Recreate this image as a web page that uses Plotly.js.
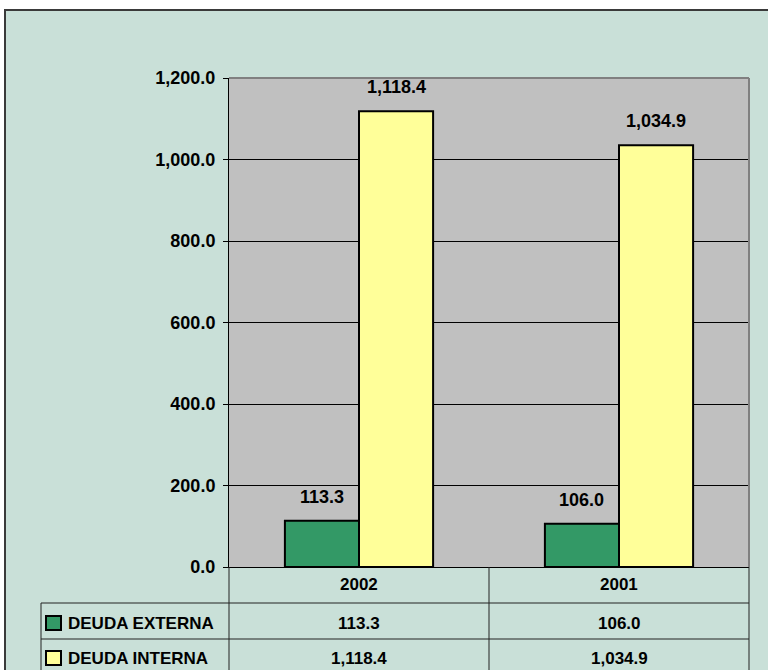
<!DOCTYPE html>
<html>
<head>
<meta charset="utf-8">
<script src="https://cdn.plot.ly/plotly-3.0.1.min.js"></script>
<style>
  html, body { margin: 0; padding: 0; background: #ffffff; width: 768px; height: 670px; overflow: hidden; }
  #chart { position: absolute; left: 4px; top: 9px; width: 764px; height: 661px;
           border-top: 2px solid #3a3a3a; border-left: 2px solid #3a3a3a; box-sizing: border-box; }
</style>
</head>
<body>
<div id="chart"></div>
<script>
// ---- data ----
const years = ['2002', '2001'];
const seriesNames = ['DEUDA EXTERNA', 'DEUDA INTERNA'];
const deudaExterna = [113.3, 106.0];
const deudaInterna = [1118.4, 1034.9];
const yTicks = [0, 200, 400, 600, 800, 1000, 1200];

// ---- styling ----
const colors = ['#339966', '#ffff99'];
const bgColor = '#c9e0d8';
const plotBg = '#c0c0c0';
const W = 764, H = 661;
const M = {l: 225, r: 19, t: 69, b: 103};
const plotW = W - M.l - M.r;   // 520
const plotH = H - M.t - M.b;   // 489
const bargap = 0.43;
const font = 'Liberation Sans, Arial, sans-serif';

// convert reference-page pixel positions (decoration layout) to paper coords
const ox = 4 + M.l, oyBottom = 9 + M.t + plotH; // 229, 567
const px = X => (X - ox) / plotW;
const py = Y => (oyBottom - Y) / plotH;

const fmt = v => v.toLocaleString('en-US', {minimumFractionDigits: 1, maximumFractionDigits: 1});

const values = [deudaExterna, deudaInterna];
const traces = values.map((vals, i) => ({
  type: 'bar', x: years, y: vals, name: seriesNames[i],
  marker: {color: colors[i], line: {color: '#000000', width: 2}},
  hoverinfo: 'skip'
}));

const catPx = plotW / years.length;
const barPx = catPx * (1 - bargap) / 2;

const annotations = [];
// bar value labels (category index positions)
values.forEach((vals, i) => {
  vals.forEach((v, j) => {
    annotations.push({
      x: j, y: v, xref: 'x', yref: 'y', text: fmt(v), showarrow: false,
      xshift: (i === 0 ? -1 : 1) * barPx / 2, yshift: 24, yanchor: 'middle',
      font: {family: font, size: 18, color: '#000', weight: 'bold'}
    });
  });
});
// table: year header row
years.forEach((yr, j) => {
  annotations.push({
    x: j, y: py(584), xref: 'x', yref: 'paper', text: yr, showarrow: false,
    yanchor: 'middle', font: {family: font, size: 17, color: '#000', weight: 'bold'}
  });
});
// table rows
const rowY = [623, 658];
values.forEach((vals, i) => {
  annotations.push({
    x: px(66), y: py(rowY[i]), xref: 'paper', yref: 'paper', text: seriesNames[i], showarrow: false,
    xanchor: 'left', yanchor: 'middle', font: {family: font, size: 17, color: '#000', weight: 'bold'}
  });
  vals.forEach((v, j) => {
    annotations.push({
      x: j, y: py(rowY[i]), xref: 'x', yref: 'paper', text: fmt(v), showarrow: false,
      yanchor: 'middle', font: {family: font, size: 17, color: '#000', weight: 'bold'}
    });
  });
});

const lineC = '#222222';
const shapes = [
  // plot frame top & right (grey)
  {type: 'line', xref: 'paper', yref: 'paper', x0: 0, x1: 1, y0: 1, y1: 1, line: {color: '#808080', width: 2}},
  {type: 'line', xref: 'paper', yref: 'paper', x0: 1, x1: 1, y0: 0, y1: 1, line: {color: '#808080', width: 2}},
  // table horizontal lines
  {type: 'line', xref: 'paper', yref: 'paper', x0: px(41), x1: px(749), y0: py(603), y1: py(603), line: {color: lineC, width: 1}},
  {type: 'line', xref: 'paper', yref: 'paper', x0: px(41), x1: px(749), y0: py(639), y1: py(639), line: {color: lineC, width: 1}},
  // table vertical lines
  {type: 'line', xref: 'paper', yref: 'paper', x0: 0, x1: 0, y0: 0, y1: py(680), line: {color: lineC, width: 1}},
  {type: 'line', xref: 'x', yref: 'paper', x0: 0.5, x1: 0.5, y0: 0, y1: py(680), line: {color: lineC, width: 1}},
  {type: 'line', xref: 'paper', yref: 'paper', x0: 1, x1: 1, y0: 0, y1: py(680), line: {color: lineC, width: 1}},
  {type: 'line', xref: 'paper', yref: 'paper', x0: px(41), x1: px(41), y0: py(603), y1: py(680), line: {color: lineC, width: 1}}
];
// legend keys in table
[616, 651].forEach((top, i) => {
  shapes.push({type: 'rect', xref: 'paper', yref: 'paper', x0: px(46), x1: px(61), y0: py(top + 14), y1: py(top),
    fillcolor: colors[i], line: {color: '#000', width: 2}});
});

const layout = {
  width: W - 2, height: H - 2,
  margin: {l: M.l - 2, r: M.r, t: M.t - 2, b: M.b},
  paper_bgcolor: bgColor, plot_bgcolor: plotBg,
  barmode: 'group', bargap: bargap, bargroupgap: 0,
  showlegend: false,
  xaxis: {type: 'category', range: [-0.5, 1.5], showticklabels: false, ticks: '', showgrid: false,
          showline: true, linecolor: '#000', linewidth: 1, zeroline: false, fixedrange: true},
  yaxis: {range: [0, 1200], tickvals: yTicks, tickformat: ',.1f', ticks: 'outside', ticklen: 5,
          tickcolor: '#000', tickwidth: 1, showline: true, linecolor: '#000', linewidth: 1,
          gridcolor: '#000', gridwidth: 1, zeroline: false, ticklabelstandoff: 4,
          tickfont: {family: font, size: 18, color: '#000', weight: 'bold'}, fixedrange: true},
  annotations: annotations,
  shapes: shapes
};

Plotly.newPlot('chart', traces, layout, {displayModeBar: false, staticPlot: true});
</script>
</body>
</html>
